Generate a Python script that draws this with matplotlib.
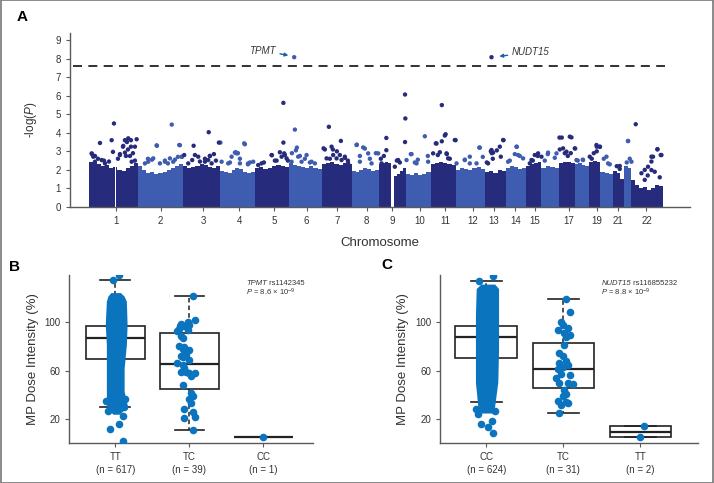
import numpy as np
import matplotlib
matplotlib.use("Agg")
import matplotlib.pyplot as plt
from matplotlib.font_manager import fontManager

# ---------------- data ----------------
# Panel A: chromosome segments (cumulative genome position, arbitrary units)
chr_edges = [89.3, 137.7, 183.3, 220.0, 255.0, 289.3, 321.7, 351.7, 379.3, 405.7,
             430.7, 456.0, 485.0, 506.7, 526.7, 541.7, 559.3, 575.0, 589.3, 600.7,
             613.3, 624.3, 631.7, 663.0]
chr_ticks = [115.7, 160.7, 203.2, 239.3, 274.0, 306.7, 337.3, 366.7, 392.3, 420.0,
             445.0, 472.7, 494.3, 515.7, 535.0, 569.3, 597.0, 618.3, 646.7]
chr_labels = ["1", "2", "3", "4", "5", "6", "7", "8", "9", "10", "11", "12", "13",
              "14", "15", "17", "19", "21", "22"]

# upper edge of the dense SNP mass, read across each chromosome (-log P)
dense_top = [
    [2.4, 2.35, 2.3, 2.2, 2.25, 2.1, 2.15, 2.0, 1.95, 2.1, 2.2, 2.35],
    [2.2, 2.0, 1.85, 1.9, 1.8, 1.85, 1.9, 2.0, 2.1, 2.2, 2.3],
    [2.2, 2.1, 2.15, 2.2, 2.3, 2.25, 2.15, 2.1, 2.2],
    [1.95, 1.9, 1.85, 2.0, 2.1, 2.05, 1.9, 1.85, 1.9],
    [2.1, 2.15, 2.05, 2.1, 2.2, 2.25, 2.2, 2.15],
    [2.35, 2.25, 2.2, 2.15, 2.1, 2.2, 2.1, 2.05],
    [2.3, 2.35, 2.4, 2.3, 2.25, 2.35, 2.3],
    [1.95, 1.9, 2.0, 2.1, 2.05, 1.95, 2.0],
    [2.3, 2.35, 2.4, 2.35, 0.0, 1.65, 1.8, 1.95, 2.1],
    [1.8, 1.75, 1.85, 1.7, 1.8, 1.9],
    [2.3, 2.35, 2.4, 2.35, 2.3, 2.25],
    [2.0, 2.1, 2.05, 2.0, 2.1, 2.15, 2.05],
    [1.9, 1.95, 1.85, 2.0, 1.95],
    [2.1, 2.2, 2.15, 2.05, 2.1],
    [2.2, 2.3, 2.35, 2.4],
    [2.1, 2.2, 2.15, 2.1],
    [2.35, 2.45, 2.4, 2.35],
    [2.3, 2.35, 2.25, 2.2],
    [2.45, 2.5, 2.4],
    [1.9, 1.85, 1.8],
    [1.95, 1.85, 1.5],
    [2.2, 2.1],
    [1.45, 1.2, 1.0, 1.1, 0.9, 1.05, 1.2, 1.15],
]
centromere_gaps = [(115.0, 116.4)]

# individual SNPs standing above the dense mass
snp_pos = [100, 111.7, 113, 114, 92, 95, 98, 104, 120, 123, 125, 127, 128, 126, 131, 131, 133, 109, 118, 135,
           91.7, 93.3, 95, 101.7, 105, 120, 123.3, 125, 128.3, 130, 131.7, 135, 136.7,
           157, 171.8, 180, 148, 152, 165, 168, 175, 178, 182,
           145, 148.3, 153.3, 156.7, 160, 165, 170, 173.3, 179.3, 181.7,
           193.7, 208.8, 220.5, 195, 200, 205, 210, 214, 216,
           184.3, 188.3, 192.3, 198.3, 205, 208.3, 210, 211.7, 219,
           245, 230, 236, 238, 240, 248, 250,
           221.7, 228.3, 231.7, 235, 236.7, 240, 244.3, 248.3, 253.3,
           272, 283.5, 283.5, 280, 285, 264, 275, 288,
           258.3, 261.7, 271.7, 276.7, 281.7, 284.3, 286.7,
           294.3, 295, 297, 296, 292, 300, 305, 310,
           291.7, 298.3, 301.7, 306.7, 311.7, 315,
           329, 341, 333, 325, 337, 340, 345, 348, 330,
           323.7, 326.7, 331.7, 333.3, 336.7, 341.7, 345, 348.3,
           357, 365, 376, 360, 370,
           356.7, 360, 363.3, 368.3, 371.7, 378.3,
           386.5, 386.5, 381, 384, 405.2, 405.5, 405.2, 397, 400,
           381.7, 398.3, 395,
           425, 411, 418, 428, 415,
           406.7, 411.7, 416.7, 428.3,
           442, 445.8, 436.7, 442, 440, 438, 447, 450, 445,
           433.3, 436, 446.7, 448.3, 455,
           455.8, 479.5, 465, 470, 483,
           456.7, 465, 470, 476.7, 480,
           491.7, 503.7, 491, 492, 497, 500, 493, 487,
           488.3, 491.7, 493.3, 501, 503.3,
           517, 515, 520, 510,
           508.3, 516.7, 518.3, 523.3,
           535, 538, 533, 530,
           531.7, 538.3, 541.7,
           548, 545, 555,
           548.3, 556.7,
           559.7, 562, 575.5, 565, 560, 568, 571,
           563.3, 566.7, 570, 571.7, 575, 576.7,
           583, 578,
           583.3,
           600.2, 597, 594, 597, 592,
           590, 596.7, 600,
           604, 610,
           606.7, 608.3,
           617, 620,
           620,
           628.3, 636, 630, 627,
           628.3, 631.7,
           657.7, 661.7, 651.7, 651.7, 645, 648, 655, 660,
           641.7, 645, 648.3, 653.3, 657.7, 661, 651.7]
snp_logp = [3.45, 3.6, 2.97, 4.5, 2.85, 2.75, 2.6, 2.5, 2.8, 3.25, 3.6, 3.5, 3.1, 2.75, 3.6, 3.25, 2.9, 2.45, 2.6, 2.5,
            2.89, 2.71, 2.44, 2.53, 2.35, 2.85, 3.29, 2.93, 3.7, 2.75, 2.44, 3.25, 3.65,
            3.3, 4.44, 3.33, 2.6, 2.55, 2.5, 2.35, 2.55, 2.7, 2.7,
            2.35, 2.44, 2.62, 3.32, 2.35, 2.44, 2.62, 2.44, 3.34, 2.71,
            3.3, 4.03, 3.47, 2.8, 2.45, 2.6, 2.75, 2.85, 2.5,
            2.8, 2.35, 2.53, 2.71, 2.44, 2.53, 2.75, 2.35, 3.47,
            3.38, 2.4, 2.95, 2.9, 2.6, 2.3, 2.4,
            2.44, 2.35, 2.71, 2.93, 2.89, 2.35, 3.43, 2.35, 2.44,
            2.79, 3.47, 5.61, 2.95, 2.8, 2.4, 2.5, 2.5,
            2.26, 2.35, 2.8, 2.5, 2.71, 2.89, 2.62,
            8.07, 4.17, 3.2, 3.05, 2.9, 2.75, 2.6, 2.4,
            2.44, 2.71, 2.44, 2.8, 2.44, 2.35,
            4.32, 3.56, 3.1, 3.1, 3.0, 2.8, 2.65, 2.5, 2.6,
            3.16, 2.62, 3.25, 2.8, 2.62, 2.53, 2.71, 2.35,
            3.36, 3.15, 2.9, 2.75, 2.6,
            3.34, 2.44, 3.21, 2.89, 2.35, 2.89,
            3.72, 3.06, 2.6, 2.75, 6.06, 4.77, 3.5, 2.5, 2.4,
            2.35, 2.53, 2.17,
            3.81, 2.85, 2.55, 2.75, 2.4,
            2.53, 2.85, 2.35, 2.44,
            5.49, 3.92, 3.42, 3.54, 2.95, 2.8, 2.85, 2.6, 3.85,
            2.89, 3.43, 2.89, 2.62, 3.61,
            3.6, 3.2, 2.55, 2.35, 2.7,
            2.35, 2.53, 2.71, 2.35, 3.2,
            8.07, 3.6, 3.0, 2.9, 3.05, 3.25, 2.6, 2.4,
            2.35, 3.07, 2.93, 2.71, 3.61,
            3.24, 2.85, 2.75, 2.5,
            2.44, 3.25, 2.8, 2.62,
            2.8, 2.75, 2.5, 2.35,
            2.53, 2.89, 2.71,
            2.85, 2.5, 2.65,
            2.93, 2.89,
            3.74, 3.74, 3.15, 2.9, 3.1, 2.75, 2.9,
            3.16, 2.98, 3.79, 3.75, 3.16, 2.53,
            2.55, 2.5,
            2.53,
            3.24, 3.25, 2.9, 3.0, 2.6,
            2.71, 3.34, 3.25,
            2.6, 2.3,
            2.71, 2.35,
            2.2, 2.05,
            2.21,
            3.56, 4.46, 2.6, 2.4,
            3.55, 2.44,
            3.11, 2.8, 2.71, 2.45, 2.0, 1.7, 1.9, 1.6,
            1.82, 1.46, 2.17, 2.71, 3.11, 2.8, 1.99]
threshold = 7.6

# Panel B: TPMT rs1142345
geno_b = ["TT", "TC", "CC"]
n_b = [617, 39, 1]
box_b = [  # (whislo, q1, med, q3, whishi)
    (29.7, 69.7, 86.8, 96.5, 134.5),
    (10.9, 44.6, 65.3, 91.0, 121.3),
    (5.4, 5.4, 5.4, 5.4, 5.4),
]
# dense TT cloud outline: dose value, left / right jitter extent
cloud_b_y = [24, 28, 32, 43, 62, 81.5, 98, 117.3, 121.5, 124.5]
cloud_b_left = [-0.03, -0.10, -0.12, -0.12, -0.12, -0.12, -0.135, -0.12, -0.10, -0.06]
cloud_b_right = [0.06, 0.12, 0.16, 0.12, 0.12, 0.15, 0.16, 0.15, 0.12, 0.07]
tt_b_dx = [0.05, -0.03, -0.07, 0.05, 0.10, 0.10, -0.10, 0.12, 0.13, -0.12]
tt_b_val = [139.2, 134.6, 12.2, 16.0, 22.7, 2.0, 27.0, 30.0, 37.0, 35.0]
tc_b_dx = [0.05, 0.07, -0.02, -0.11, -0.07, 0.0, -0.14, -0.02, -0.11, -0.09, -0.14, -0.07, -0.09,
           0.0, -0.05, -0.09, 0.0, -0.16, -0.09, -0.07, -0.05, 0.0, -0.11, 0.07, 0.02, -0.09,
           0.02, 0.05, 0.0, 0.02, -0.07, 0.05, -0.07, 0.05, -0.13, -0.17, -0.07, -0.11, 0.07]
tc_b_val = [121.3, 102.0, 100.6, 98.7, 96.5, 97.9, 94.6, 93.8, 88.8, 86.9, 80.0, 79.5, 77.8,
            77.2, 73.1, 71.2, 69.0, 66.3, 65.0, 62.1, 59.3, 58.0, 58.5, 58.0, 55.2, 48.3,
            41.4, 38.7, 36.5, 33.2, 28.2, 25.5, 20.8, 11.1, 97.1, 92.5, 77.2, 71.7, 21.6]
cc_b_dx = [0.0]
cc_b_val = [5.4]

# Panel C: NUDT15 rs116855232
geno_c = ["CC", "TC", "TT"]
n_c = [624, 31, 2]
box_c = [
    (33.8, 70.3, 87.6, 97.3, 133.8),
    (24.8, 46.0, 61.4, 83.2, 119.6),
    (4.9, 4.9, 9.7, 14.5, 14.5),
]
cloud_c_y = [25, 31, 50.5, 78, 105.7, 127.8, 131.5]
cloud_c_left = [-0.09, -0.11, -0.14, -0.14, -0.14, -0.13, -0.07]
cloud_c_right = [0.09, 0.11, 0.15, 0.16, 0.16, 0.16, 0.11]
cc_c_dx = [0.09, -0.09, 0.07, 0.02, 0.09, -0.11, -0.07, 0.12, -0.13]
cc_c_val = [138.4, 133.8, 18.6, 13.8, 8.1, 24.3, 16.0, 27.0, 28.0]
tc_c_dx = [0.03, 0.08, -0.03, -0.01, -0.07, 0.06, 0.01, 0.08, 0.03, 0.01, -0.05, -0.01, 0.03,
           -0.05, 0.06, -0.01, -0.07, -0.03, 0.08, -0.10, -0.05, 0.06, 0.12, 0.01, 0.03, -0.01,
           -0.07, 0.06, -0.03, -0.05, 0.03]
tc_c_val = [119.6, 108.3, 100.6, 97.9, 93.2, 95.2, 91.1, 89.7, 87.8, 81.4, 74.5, 71.8, 68.2,
            66.3, 64.9, 63.0, 61.4, 57.5, 56.7, 53.9, 49.8, 49.8, 49.3, 44.3, 41.0, 38.8,
            34.7, 33.3, 32.0, 25.1, 33.9]
tt_c_dx = [0.04, -0.01]
tt_c_val = [14.5, 4.9]

# ---------------- style ----------------
names = {f.name for f in fontManager.ttflist}
main_font = "Liberation Sans Narrow" if "Liberation Sans Narrow" in names else "Liberation Sans"
plt.rcParams["font.family"] = [main_font, "DejaVu Sans"]
plt.rcParams["mathtext.fontset"] = "custom"
plt.rcParams["mathtext.rm"] = main_font
plt.rcParams["mathtext.it"] = main_font + ":italic"

dark = "#272b7b"
light = "#3e5db0"
dot_blue = "#0b74bf"
axis_gray = "#5a5a5a"

fig = plt.figure(figsize=(7.14, 4.83), dpi=100)


def style_axes(ax):
    for s in ["top", "right"]:
        ax.spines[s].set_visible(False)
    for s in ["left", "bottom"]:
        ax.spines[s].set_color(axis_gray)
        ax.spines[s].set_linewidth(1.0)
    ax.tick_params(colors=axis_gray, labelcolor="#333333", length=3, width=0.8)


# ---------------- panel A ----------------
axA = fig.add_axes([0.098, 0.5714, 0.868, 0.3609])
style_axes(axA)
for i, tops in enumerate(dense_top):
    col = dark if i % 2 == 0 else light
    edges = np.linspace(chr_edges[i], chr_edges[i + 1], len(tops) + 1)
    axA.stairs(tops, edges, baseline=0, fill=True, color=col, lw=0, zorder=2)
for a, b in centromere_gaps:
    axA.fill_between([a, b], 0, 2.6, color="white", lw=0, zorder=3)

seg = np.clip(np.searchsorted(chr_edges, snp_pos) - 1, 0, len(dense_top) - 1)
cols = [dark if k % 2 == 0 else light for k in seg]
axA.scatter(snp_pos, snp_logp, s=10, c=cols, lw=0, zorder=4)

axA.plot([73, 665], [threshold, threshold], color="#222222", lw=1.3,
         dashes=(5, 3.5), zorder=5)

axA.annotate("TPMT", xy=(288.5, 8.17), xytext=(276, 8.42), fontsize=7, style="italic",
             color="#333333", ha="right", va="center",
             arrowprops=dict(arrowstyle="-|>", color="#1f5fa8", lw=1.0,
                             shrinkA=1, shrinkB=0, mutation_scale=5))
axA.annotate("NUDT15", xy=(499.5, 8.12), xytext=(512, 8.33), fontsize=7, style="italic",
             color="#333333", ha="left", va="center",
             arrowprops=dict(arrowstyle="-|>", color="#1f5fa8", lw=1.0,
                             shrinkA=1, shrinkB=0, mutation_scale=5))

axA.set_xlim(70, 690)
axA.set_ylim(0, 9.39)
axA.set_yticks(range(10))
axA.set_xticks(chr_ticks)
axA.set_xticklabels(chr_labels)
axA.tick_params(labelsize=7)
axA.set_ylabel("-log($\\it{P}$)", fontsize=8.5, color="#333333", labelpad=12)
axA.set_xlabel("Chromosome", fontsize=9.5, color="#333333", labelpad=8)


# ---------------- panels B and C ----------------
def box_panel(ax, boxes, geno, ns, cloud_y, cloud_l, cloud_r, dot_sets):
    style_axes(ax)
    stats = [dict(whislo=b[0], q1=b[1], med=b[2], q3=b[3], whishi=b[4], label="")
             for b in boxes]
    ax.bxp(stats, positions=[1, 2, 3], widths=0.8, capwidths=0.4, showfliers=False,
           patch_artist=True,
           boxprops=dict(facecolor="white", edgecolor="#222222", lw=1.2),
           medianprops=dict(color="#222222", lw=1.6),
           whiskerprops=dict(color="#222222", lw=1.1, ls=(0, (3, 2))),
           capprops=dict(color="#222222", lw=1.2), zorder=2)
    ax.fill_betweenx(cloud_y, [1 + v for v in cloud_l], [1 + v for v in cloud_r],
                     color=dot_blue, lw=0, zorder=3)
    for pos, dx, vals in dot_sets:
        ax.scatter([pos + d for d in dx], vals, s=30, color=dot_blue, lw=0, zorder=4)
    ax.set_xticks([1, 2, 3])
    ax.set_xticklabels([f"{g}\n(n = {n})" for g, n in zip(geno, ns)], fontsize=7,
                       linespacing=1.35)
    ax.set_yticks([20, 60, 100])
    ax.tick_params(labelsize=7)
    ax.set_ylim(0, 139)
    ax.set_ylabel("MP Dose Intensity (%)", fontsize=9.5, color="#333333", labelpad=4)


axB = fig.add_axes([0.0971, 0.0822, 0.3413, 0.3484])
box_panel(axB, box_b, geno_b, n_b, cloud_b_y, cloud_b_left, cloud_b_right,
          [(1, tt_b_dx, tt_b_val), (2, tc_b_dx, tc_b_val), (3, cc_b_dx, cc_b_val)])
axB.set_xlim(0.38, 3.67)
t = axB.text(0.725, 0.951, "TPMT", transform=axB.transAxes, fontsize=5.5,
             style="italic", color="#333333", va="center")
axB.annotate(" rs1142345", xy=(1, 0.5), xycoords=t, fontsize=5.5, color="#333333",
             va="center")
axB.text(0.725, 0.895, "$\\it{P}$ = 8.6 × 10$^{-9}$", transform=axB.transAxes,
         fontsize=5.5, color="#333333", va="center")

axC = fig.add_axes([0.6162, 0.0822, 0.3618, 0.3484])
box_panel(axC, box_c, geno_c, n_c, cloud_c_y, cloud_c_left, cloud_c_right,
          [(1, cc_c_dx, cc_c_val), (2, tc_c_dx, tc_c_val), (3, tt_c_dx, tt_c_val)])
axC.set_xlim(0.4, 3.75)
t = axC.text(0.625, 0.951, "NUDT15", transform=axC.transAxes, fontsize=5.5,
             style="italic", color="#333333", va="center")
axC.annotate(" rs116855232", xy=(1, 0.5), xycoords=t, fontsize=5.5, color="#333333",
             va="center")
axC.text(0.625, 0.895, "$\\it{P}$ = 8.8 × 10$^{-9}$", transform=axC.transAxes,
         fontsize=5.5, color="#333333", va="center")

# panel letters and outer frame
fig.text(0.031, 0.965, "A", fontsize=11, fontweight="bold", va="center", ha="center")
fig.text(0.021, 0.448, "B", fontsize=11, fontweight="bold", va="center", ha="center")
fig.text(0.5416, 0.451, "C", fontsize=11, fontweight="bold", va="center", ha="center")
fig.patches.append(plt.Rectangle((0.001, 0.001), 0.998, 0.998, transform=fig.transFigure,
                                 fill=False, edgecolor="#777777", lw=1.2))

fig.savefig("out.png", dpi=100)
